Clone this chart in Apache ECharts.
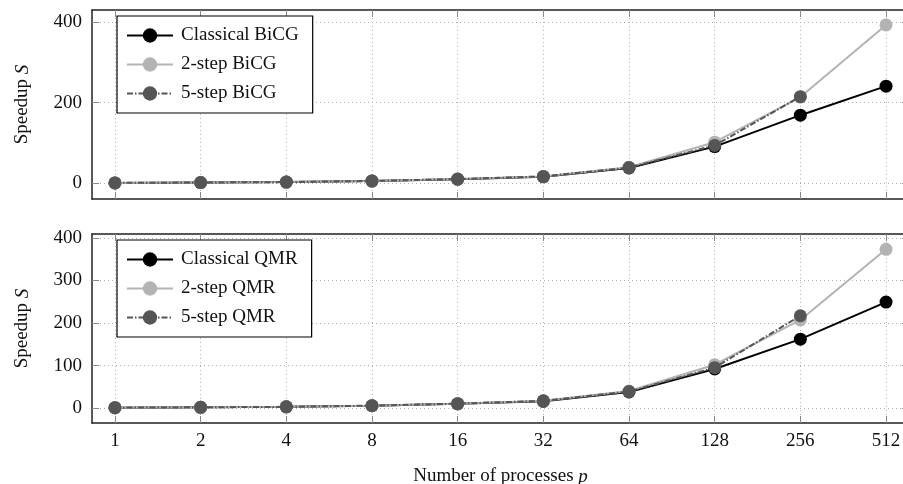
<!DOCTYPE html>
<html>
<head>
<meta charset="utf-8">
<script src="https://cdn.jsdelivr.net/npm/echarts@6/dist/echarts.min.js"></script>
<style>html,body{margin:0;padding:0;background:#fff}#c{width:903px;height:484px}</style>
</head>
<body>
<div id="c"></div>
<script>
const processes = [1, 2, 4, 8, 16, 32, 64, 128, 256, 512];
const xTickLabels = ['1', '2', '4', '8', '16', '32', '64', '128', '256', '512'];
const yTicksTop = [0, 200, 400];
const yTicksBottom = [0, 100, 200, 300, 400];

const bicgClassical = [1, 1.8, 3, 5.5, 10, 16, 38, 91, 169, 241];
const bicg2step = [1, 1.9, 3, 5.8, 10.5, 17, 40, 102, 214, 393];
const bicg5step = [1, 1.9, 3, 5.8, 10.5, 17, 39, 94, 215];

const qmrClassical = [1, 1.8, 3, 5.5, 10, 16, 38, 92, 162, 249];
const qmr2step = [1, 1.9, 3, 5.8, 10.5, 17, 40, 102, 207, 373];
const qmr5step = [1, 1.9, 3, 5.8, 10.5, 17, 39, 95, 217];

const namesTop = ['Classical BiCG', '2-step BiCG', '5-step BiCG'];
const namesBottom = ['Classical QMR', '2-step QMR', '5-step QMR'];

const FONT = 'Liberation Serif';
const xIdx = processes.map(p => Math.log2(p));
const toPts = arr => arr.map((v, i) => [xIdx[i], v]);

const gridStyle = { color: '#b0b0b0', type: [1, 3], width: 1 };
const tickStyle = { color: '#8a8a8a', width: 1 };
const frameStyle = { color: '#222', width: 1.5 };

function xAxes(gi, showLabels) {
  const base = {
    type: 'value', gridIndex: gi, min: -0.268, max: 9.268,
    axisLine: { show: true, onZero: false, lineStyle: frameStyle },
    axisTick: { show: true, inside: true, length: 7, customValues: xIdx, lineStyle: tickStyle },
  };
  return [
    Object.assign({}, base, {
      position: 'bottom',
      axisLabel: { show: showLabels, customValues: xIdx, formatter: v => xTickLabels[Math.round(v)], fontFamily: FONT, fontSize: 19, color: '#111', margin: 9 },
      splitLine: { show: true, lineStyle: gridStyle },
      name: showLabels ? '{a|Number of processes }{b|p}' : '',
      nameLocation: 'middle', nameGap: 44,
      nameTextStyle: { rich: { a: { fontFamily: FONT, fontSize: 19, color: '#111' }, b: { fontFamily: FONT, fontSize: 19, fontStyle: 'italic', color: '#111' } } }
    }),
    Object.assign({}, base, {
      position: 'top',
      axisLabel: { show: false },
      splitLine: { show: false }
    })
  ];
}

function yAxes(gi, min, max, ticks) {
  const base = {
    type: 'value', gridIndex: gi, min: min, max: max,
    axisLine: { show: true, onZero: false, lineStyle: frameStyle },
    axisTick: { show: true, inside: true, length: 7, customValues: ticks, lineStyle: tickStyle },
  };
  return [
    Object.assign({}, base, {
      position: 'left',
      axisLabel: { show: true, customValues: ticks, fontFamily: FONT, fontSize: 19, color: '#111', margin: 10 },
      splitLine: { show: true, lineStyle: gridStyle },
      name: '{a|Speedup }{b|S}', nameLocation: 'middle', nameGap: 60, nameRotate: 90,
      nameTextStyle: { rich: { a: { fontFamily: FONT, fontSize: 19, color: '#111' }, b: { fontFamily: FONT, fontSize: 19, fontStyle: 'italic', color: '#111' } } }
    }),
    Object.assign({}, base, {
      position: 'right',
      axisLabel: { show: false },
      splitLine: { show: false }
    })
  ];
}

function mkSeries(names, c, t2, t5, xi, yi) {
  return [
    { name: names[0], type: 'line', xAxisIndex: xi, yAxisIndex: yi, data: toPts(c), symbol: 'circle', symbolSize: 13,
      lineStyle: { color: '#000', width: 2 }, itemStyle: { color: '#000' }, z: 3 },
    { name: names[1], type: 'line', xAxisIndex: xi, yAxisIndex: yi, data: toPts(t2), symbol: 'circle', symbolSize: 13,
      lineStyle: { color: '#b3b3b3', width: 2 }, itemStyle: { color: '#b3b3b3' }, z: 4 },
    { name: names[2], type: 'line', xAxisIndex: xi, yAxisIndex: yi, data: toPts(t5), symbol: 'circle', symbolSize: 13,
      lineStyle: { color: '#555', width: 2, type: [6, 2, 1.5, 2] }, itemStyle: { color: '#555' }, z: 5 }
  ];
}

function legendCfg(names, top) {
  return {
    data: names, left: 117, top: top, orient: 'vertical',
    backgroundColor: '#fff', borderColor: '#000', borderWidth: 1.2,
    padding: [10, 14, 10, 9], itemGap: 10, itemWidth: 46, itemHeight: 18,
    textStyle: { fontFamily: FONT, fontSize: 19, color: '#111', padding: [0, 0, 0, 3] }
  };
}

const chart = echarts.init(document.getElementById('c'), null, { renderer: 'canvas' });
chart.setOption({
  animation: false,
  backgroundColor: '#fff',
  grid: [
    { left: 92, top: 10, width: 817, height: 189, outerBoundsMode: 'none', containLabel: false },
    { left: 92, top: 234, width: 817, height: 189, outerBoundsMode: 'none', containLabel: false }
  ],
  xAxis: [].concat(xAxes(0, false), xAxes(1, true)),
  yAxis: [].concat(yAxes(0, -39, 430, yTicksTop), yAxes(1, -35, 409, yTicksBottom)),
  legend: [legendCfg(namesTop, 16), legendCfg(namesBottom, 240)],
  series: [].concat(
    mkSeries(namesTop, bicgClassical, bicg2step, bicg5step, 0, 0),
    mkSeries(namesBottom, qmrClassical, qmr2step, qmr5step, 2, 2)
  )
});
</script>
</body>
</html>
